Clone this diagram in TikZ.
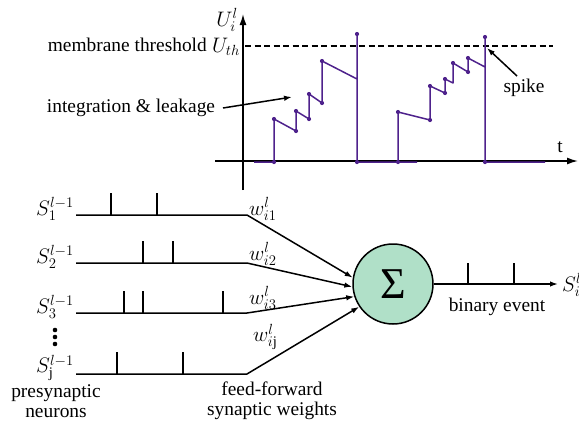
\documentclass[tikz,border=0pt]{standalone}
\usepackage{fix-cm}
\usepackage{fontspec}
\setmainfont{Liberation Serif}
\usetikzlibrary{arrows.meta}
\definecolor{trace}{RGB}{78,34,140}
\definecolor{somafill}{RGB}{176,224,200}
\tikzset{
  ax/.style={line width=1.5pt,-{Latex[length=11pt,width=7pt]}},
  sig/.style={line width=1.5pt},
  tr/.style={draw=trace,line width=1.5pt,line join=round},
  pdot/.style={circle,fill=trace,inner sep=0pt,minimum size=4.2pt},
  conn/.style={line width=1.5pt,-{Latex[length=8pt,width=5.5pt]}},
  lbl/.style={inner sep=0pt,font=\fontsize{19.4}{19.5}\selectfont},
  mlbl/.style={inner sep=0pt,font=\fontsize{21}{21}\selectfont},
  soma/.style={circle,draw,line width=1.5pt,fill=somafill,minimum size=80pt,inner sep=0pt,font=\fontsize{44}{44}\selectfont},
}
\begin{document}
\begin{tikzpicture}[x=1pt,y=-1pt]
\useasboundingbox (0,0) rectangle (579,424);
% ---- top plot ----
\draw[ax] (215,161) -- (578,161);
\draw[ax] (243,190) -- (243,14);
\node[mlbl] (ulab) at (227,20) {$U_i^l$};
\node[lbl] (tlab) at (560,147) {t};
\node[lbl,anchor=east] (mth) at (207,45) {membrane threshold};
\node[mlbl] (uth) at (226,47) {$U_{th}$};
\draw[line width=1.2pt,dash pattern=on 6pt off 3.5pt] (245,46) -- (553,46);
% trace
\draw[tr] (254,162) -- (274,162) -- (274,119) -- (296,131) -- (296,111) -- (309,119) -- (309,94) -- (322,103) -- (322,61) -- (357,79) -- (357,34) -- (357,162) -- (417,162);
\draw[tr] (398,162) -- (398,112) -- (430,120) -- (430,86) -- (445,93) -- (445,79) -- (453,83) -- (453,63) -- (468,72) -- (468,58) -- (485,67) -- (485,37) -- (485,162) -- (545,162);
\foreach \p in {(274,162),(274,119),(296,131),(296,111),(309,119),(309,94),(322,103),(322,61),(357,34),(357,162),(398,162),(398,112),(430,120),(430,86),(445,93),(445,79),(453,63),(468,72),(468,58),(485,37),(485,162)}
  \node[pdot] at \p {};
% annotations
\node[lbl] (intl) at (131,108) {integration \& leakage};
\coordinate (intt) at (292,97);
\draw[line width=1.5pt,-{Latex[length=8pt,width=5.5pt]}] (223,108) -- (intt);
\node[lbl] (spk) at (524,88) {spike};
\coordinate (spkt) at (487,48);
\coordinate (spks) at (517,76);
\draw[line width=1.5pt,-{Latex[length=8pt,width=5.5pt]}] (spks) -- (spkt);
% ---- bottom: neuron ----
\node[soma] (sigma) at (393,284) {Σ};
% inputs
\foreach \n/\y/\lab in {1/215/1,2/263/2,3/313/3,4/374/\mathrm{j}} {
  \coordinate (in\n s) at (76,\y);
  \coordinate (in\n e) at (247,\y);
  \node[mlbl,anchor=east] (s\n) at (74,\y-6) {$S_{\lab}^{l-1}$};
}
\node[mlbl,anchor=west] (w1) at (249,209) {$w_{i1}^l$};
\node[mlbl,anchor=west] (w2) at (249,254) {$w_{i2}^l$};
\node[mlbl,anchor=west] (w3) at (249,298) {$w_{i3}^l$};
\node[mlbl,anchor=west] (w4) at (253,337) {$w_{i\mathrm{j}}^l$};
\draw[conn] (in1s) -- (in1e) -- (sigma.171);
\draw[conn] (in2s) -- (in2e) -- (sigma.184);
\draw[conn] (in3s) -- (in3e) -- (sigma.198);
\draw[conn] (in4s) -- (in4e) -- (sigma.214);
% spikes on inputs
\foreach \x/\y in {111/215,157/215,143/263,173/263,124/313,143/313,223/313,117/374,183/374}
  \draw[sig] (\x,\y) -- (\x,\y-22);
% vertical dots
\foreach \y in {330,337,344} \fill (55,\y) circle (2.3pt);
\node[lbl,align=center] (pre) at (56,401) {presynaptic\\neurons};
\node[lbl,align=center] (ffw) at (272,401) {feed-forward\\synaptic weights};
% output
\coordinate (outt) at (558,284);
\draw[conn] (sigma.east) -- (outt);
\draw[sig] (468,284) -- (468,263);
\draw[sig] (514,284) -- (514,263);
\node[lbl] (bev) at (497,307) {binary event};
\node[mlbl,anchor=west] (sout) at (562,285) {$S_i^l$};
\end{tikzpicture}
\end{document}
